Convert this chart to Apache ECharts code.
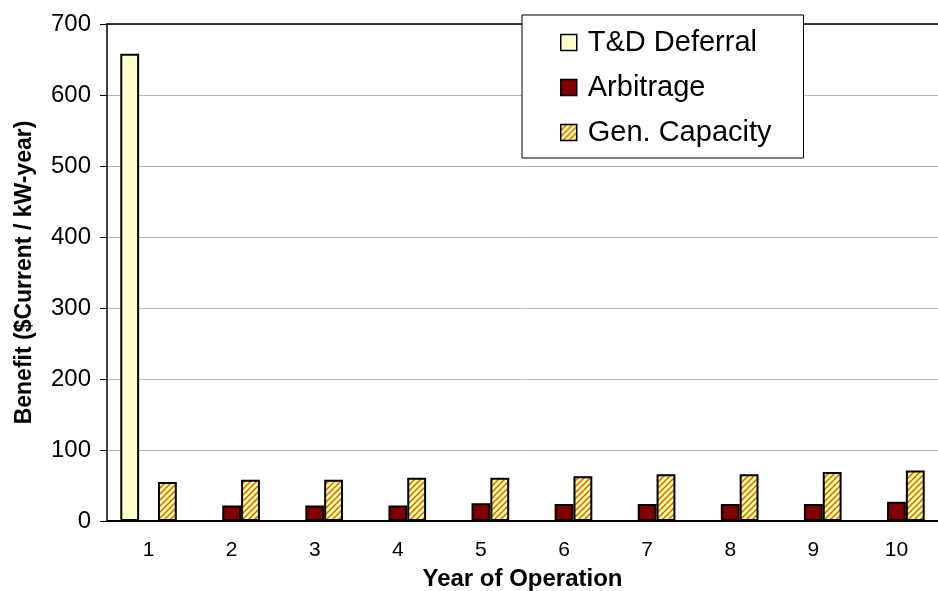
<!DOCTYPE html>
<html>
<head>
<meta charset="utf-8">
<script src="https://cdn.jsdelivr.net/npm/echarts@6/dist/echarts.min.js"></script>
<style>
  html, body { margin: 0; padding: 0; background: #fff; }
  #chart { width: 938px; height: 591px; }
</style>
</head>
<body>
<div id="chart"></div>
<script>
const years = ["1", "2", "3", "4", "5", "6", "7", "8", "9", "10"];
const tdDeferral = [658, null, null, null, null, null, null, null, null, null];
const arbitrage = [null, 22, 22, 22, 25, 24, 24, 24, 24, 27];
const genCapacity = [55, 58, 58, 61, 61, 63, 66, 66, 69, 71];
const yTicks = { min: 0, max: 700, interval: 100 };

// diagonal hatch for Gen. Capacity
const makeHatch = () => {
  const c = document.createElement("canvas");
  c.width = 6;
  c.height = 6;
  const ctx = c.getContext("2d");
  ctx.fillStyle = "#ffff8c";
  ctx.fillRect(0, 0, 6, 6);
  ctx.strokeStyle = "#c86432";
  ctx.lineWidth = 1.5;
  ctx.beginPath();
  ctx.moveTo(-1, 7); ctx.lineTo(7, -1);
  ctx.moveTo(-4, 4); ctx.lineTo(4, -4);
  ctx.moveTo(2, 10); ctx.lineTo(10, 2);
  ctx.stroke();
  return c;
};

const font = "'Liberation Sans', Arial, sans-serif";
const chart = echarts.init(document.getElementById("chart"));

const option = {
  animation: false,
  textStyle: { fontFamily: font },
  grid: { left: 107, right: 0, top: 24, bottom: 70, outerBoundsMode: "none", containLabel: false },
  legend: {
    orient: "vertical",
    left: 522,
    top: 15,
    padding: [13, 32, 11, 38],
    itemGap: 16,
    itemWidth: 16,
    itemHeight: 16,
    itemTextGap: 10,
    icon: "rect",
    itemStyle: { borderColor: "#000", borderWidth: 1.5 },
    backgroundColor: "#fff",
    borderColor: "#000",
    borderWidth: 1,
    textStyle: { fontSize: 29, color: "#000", fontFamily: font, padding: [0, 0, 0, 6] },
    data: ["T&D Deferral", "Arbitrage", "Gen. Capacity"]
  },
  xAxis: [
    {
      type: "category",
      data: years,
      name: "Year of Operation",
      nameLocation: "middle",
      nameGap: 46,
      nameTextStyle: { fontSize: 24, fontWeight: "bold", color: "#000", fontFamily: font },
      axisLine: { lineStyle: { color: "#000", width: 2 } },
      axisTick: { length: 6, lineStyle: { color: "#000" } },
      axisLabel: { fontSize: 21, color: "#000", margin: 19, fontFamily: font }
    },
    {
      type: "category",
      data: years,
      position: "top",
      axisLine: { show: true, lineStyle: { color: "#000", width: 1.5 } },
      axisTick: { show: false },
      axisLabel: { show: false }
    }
  ],
  yAxis: {
    type: "value",
    min: yTicks.min,
    max: yTicks.max,
    interval: yTicks.interval,
    name: "Benefit ($Current / kW-year)",
    nameLocation: "middle",
    nameGap: 71,
    nameTextStyle: { fontSize: 23, fontWeight: "bold", color: "#000", fontFamily: font },
    axisLine: { show: true, lineStyle: { color: "#000", width: 1.5 } },
    axisTick: { show: true, length: 7, lineStyle: { color: "#000" } },
    axisLabel: { fontSize: 24, color: "#000", margin: 16, fontFamily: font },
    splitLine: { lineStyle: { color: "#b4b4b4", width: 1 } }
  },
  series: [
    {
      name: "T&D Deferral",
      type: "bar",
      data: tdDeferral,
      barGap: "0%",
      barCategoryGap: "32%",
      itemStyle: { color: "#ffffcc", borderColor: "#000", borderWidth: 2 }
    },
    {
      name: "Arbitrage",
      type: "bar",
      data: arbitrage,
      itemStyle: { color: "#800000", borderColor: "#000", borderWidth: 2 }
    },
    {
      name: "Gen. Capacity",
      type: "bar",
      data: genCapacity,
      itemStyle: {
        color: { image: makeHatch(), repeat: "repeat" },
        borderColor: "#000",
        borderWidth: 2
      }
    }
  ]
};

chart.setOption(option);
</script>
</body>
</html>
